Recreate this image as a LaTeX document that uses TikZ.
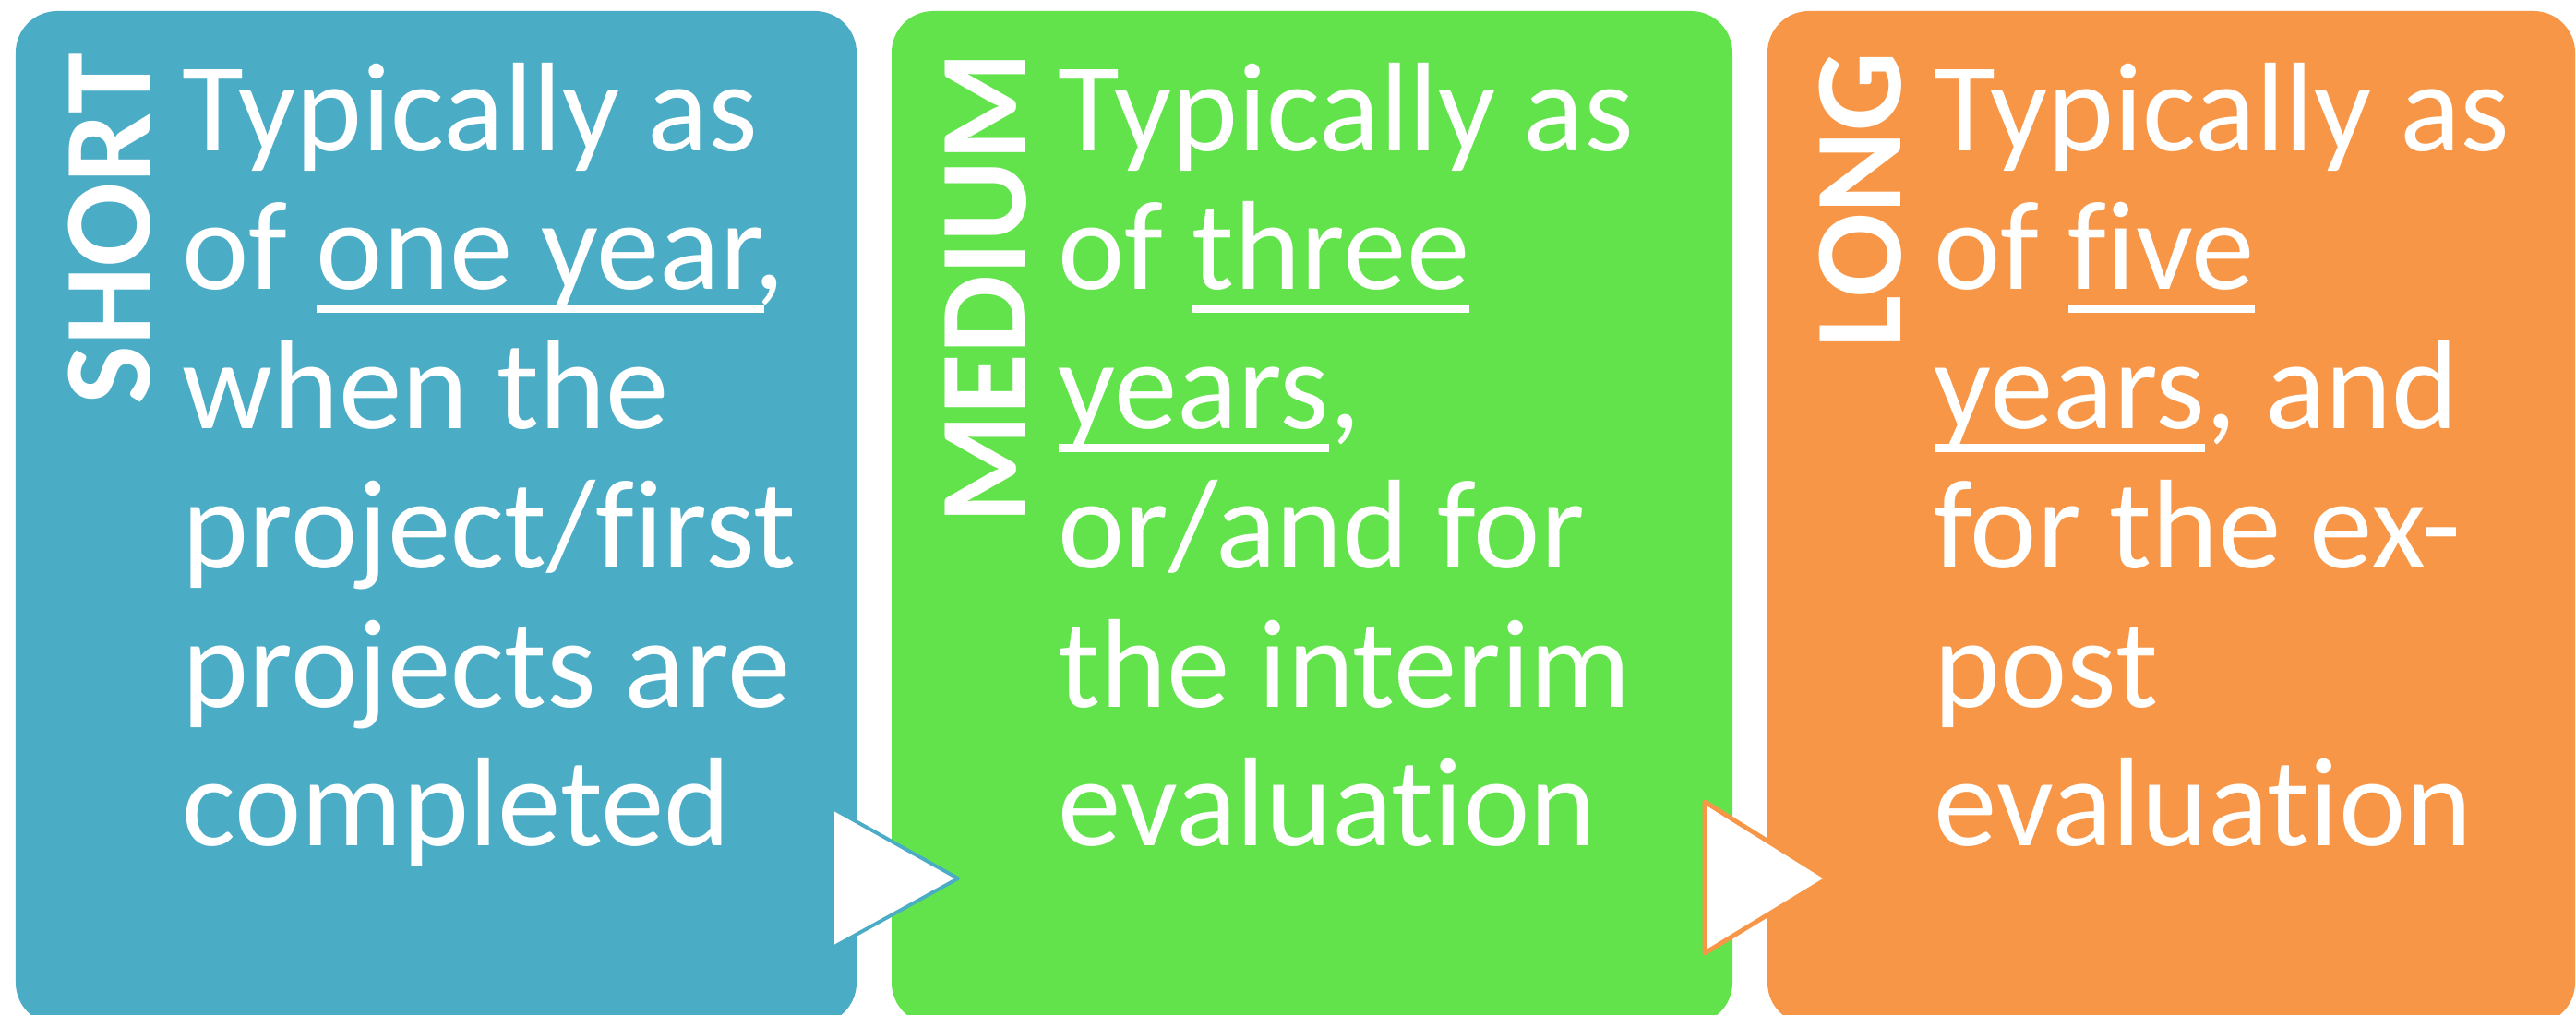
\documentclass[tikz,border=0pt]{standalone}
\usepackage{fontspec}
\setmainfont{Carlito}[Ligatures=NoCommon]
\usepackage{tikz}

\definecolor{shortblue}{HTML}{4BACC6}
\definecolor{mediumgreen}{HTML}{62E34B}
\definecolor{longorange}{HTML}{F79646}

\newlength\ulwidth
\newcommand{\ulword}[1]{\settowidth{\ulwidth}{#1}\rlap{\rule[-0.185em]{\ulwidth}{0.067em}}#1}

\begin{document}
\begin{tikzpicture}[
    boxtext/.style={text=white, align=left, anchor=base west, inner sep=0pt,
      font=\fontsize{39}{42.9}\selectfont},
    sidelabel/.style={text=white, rotate=90, anchor=base east, inner sep=0pt,
      font=\fontsize{38.4}{42.9}\selectfont\bfseries}]
        \useasboundingbox (0,0) rectangle (27.91,11);
        \draw [fill=shortblue, draw=none, rounded corners=0.45cm] (0.17,-0.1) rectangle (9.28,10.88);
        \draw [fill=mediumgreen, draw=none, rounded corners=0.45cm] (9.66,-0.1) rectangle (18.77,10.88);
        \draw [fill=longorange, draw=none, rounded corners=0.45cm] (19.15,-0.1) rectangle (27.90,10.88);
        \draw [fill=white, draw=shortblue, line width=1.1pt, line join=round] (9.02,2.24) -- (10.38,1.48) -- (9.02,0.73) -- cycle;
        \draw [fill=white, draw=longorange, line width=1.4pt, line join=round] (18.47,2.31) -- (19.80,1.48) -- (18.47,0.67) -- cycle;
        \node (short) [sidelabel] at (1.62,10.44) {SHORT};
        \node (shorttext) [boxtext] at (1.97,1.83) {Typically as\\of \ulword{one year},\\when the\\project/first\\projects are\\completed};
        \node (medium) [sidelabel] at (11.11,10.44) {MEDIUM};
        \node (mediumtext) [boxtext] at (11.46,1.83) {Typically as\\of \ulword{three}\\\ulword{years},\\or/and for\\the interim\\evaluation};
        \node (long) [sidelabel] at (20.59,10.44) {LONG};
        \node (longtext) [boxtext] at (20.95,1.83) {Typically as\\of \ulword{five}\\\ulword{years}, and\\for the ex-\\post\\evaluation};
\end{tikzpicture}
\end{document}
